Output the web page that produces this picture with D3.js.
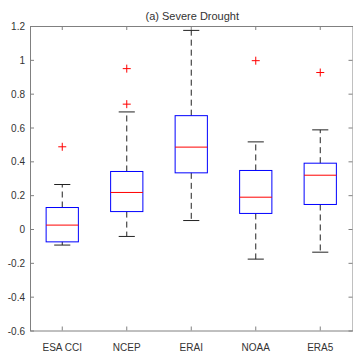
<!DOCTYPE html>
<html lang="en">
  <head>
    <meta charset="utf-8">
    <title>Severe Drought</title>
    <style>
      body { margin: 0; background: #fff; }
      text { font-family: "Liberation Sans", Arial, sans-serif; fill: #333; }
    </style>
    <script src="https://cdn.jsdelivr.net/npm/d3@7"></script>
  </head>
  <body>
    <div id="viz"></div>
    <script>

    // box stats
    var products = ['ESA CCI', 'NCEP', 'ERAI', 'NOAA', 'ERA5'];
    var lowerWhisker = [-0.095, -0.044, 0.05, -0.178, -0.137];
    var q1 = [-0.076, 0.103, 0.332, 0.092, 0.145];
    var median = [0.023, 0.216, 0.484, 0.188, 0.318];
    var q3 = [0.127, 0.34, 0.67, 0.346, 0.389];
    var upperWhisker = [0.263, 0.692, 1.174, 0.515, 0.586];
    var outliers = [[0.486], [0.948, 0.738], [], [0.995], [0.925]];
    var yTicks = [-0.6, -0.4, -0.2, 0, 0.2, 0.4, 0.6, 0.8, 1, 1.2];

    var width = 353, height = 360;
    var plotLeft = 30, plotRight = 352.5, plotTop = 26, plotBottom = 330.5;

    var svg = d3.select('#viz')
        .append('svg')
        .attr('width', width)
        .attr('height', height);

    var x = d3.scaleBand()
        .domain(products)
        .range([plotLeft, plotRight]);

    var y = d3.scaleLinear()
        .domain([-0.6, 1.2])
        .range([plotBottom, plotTop]);

    var bw = x.bandwidth();
    var cx = function(i) { return x(products[i]) + bw / 2; };

    // axes (left/bottom with labels, top/right just ticks)
    var axisColor = '#808080';
    var tick = 4;

    var yAxis = svg.append('g')
        .attr('transform', 'translate(' + plotLeft + ',0)')
        .call(d3.axisLeft(y).tickValues(yTicks).tickSizeInner(-tick).tickSizeOuter(0)
          .tickPadding(5).tickFormat(function(d) { return String(+d.toFixed(1)); }));
    var xAxis = svg.append('g')
        .attr('transform', 'translate(0,' + plotBottom + ')')
        .call(d3.axisBottom(x).tickSizeInner(-tick).tickSizeOuter(0).tickPadding(13));
    var yRight = svg.append('g')
        .attr('transform', 'translate(' + plotRight + ',0)')
        .call(d3.axisRight(y).tickValues(yTicks).tickSizeInner(-tick).tickSizeOuter(0).tickFormat(''));
    var xTop = svg.append('g')
        .attr('transform', 'translate(0,' + plotTop + ')')
        .call(d3.axisTop(x).tickSizeInner(-tick).tickSizeOuter(0).tickFormat(''));

    [yAxis, xAxis, yRight, xTop].forEach(function(g) {
      g.select('.domain').attr('stroke', axisColor);
      g.selectAll('.tick line').attr('stroke', axisColor);
      g.selectAll('.tick text')
        .style('font-size', '10px')
        .style('font-family', '"Liberation Sans", Arial, sans-serif')
        .attr('fill', '#333');
    });
    yAxis.selectAll('.tick text').attr('dy', '0.35em');

    // title
    svg.append('text')
      .attr('x', (plotLeft + plotRight) / 2 + 1)
      .attr('y', 19.5)
      .attr('text-anchor', 'middle')
      .style('font-size', '11px')
      .attr('fill', '#111')
      .text('(a) Severe Drought');

    var boxes = svg.append('g');

    products.forEach(function(p, i) {
      var c = cx(i);
      var half = bw * 0.25;
      var cap = bw * 0.125;

      // whiskers
      boxes.append('line')
        .attr('x1', c).attr('x2', c)
        .attr('y1', y(q3[i])).attr('y2', y(upperWhisker[i]))
        .attr('stroke', '#222').attr('stroke-dasharray', '6,4');
      boxes.append('line')
        .attr('x1', c).attr('x2', c)
        .attr('y1', y(q1[i])).attr('y2', y(lowerWhisker[i]))
        .attr('stroke', '#222').attr('stroke-dasharray', '6,4');
      [upperWhisker[i], lowerWhisker[i]].forEach(function(v) {
        boxes.append('line')
          .attr('x1', c - cap).attr('x2', c + cap)
          .attr('y1', y(v)).attr('y2', y(v))
          .attr('stroke', '#222');
      });

      // box
      boxes.append('rect')
        .attr('x', c - half)
        .attr('y', y(q3[i]))
        .attr('width', half * 2)
        .attr('height', y(q1[i]) - y(q3[i]))
        .attr('fill', 'none')
        .attr('stroke', '#0000ff');

      // median
      boxes.append('line')
        .attr('x1', c - half).attr('x2', c + half)
        .attr('y1', y(median[i])).attr('y2', y(median[i]))
        .attr('stroke', '#ff0000');

      // outliers
      outliers[i].forEach(function(v) {
        boxes.append('path')
          .attr('d', 'M' + (c - 4) + ',' + y(v) + 'H' + (c + 4) +
                     'M' + c + ',' + (y(v) - 4) + 'V' + (y(v) + 4))
          .attr('stroke', '#ff0000')
          .attr('fill', 'none');
      });
    });

    </script>
  </body>
</html>
